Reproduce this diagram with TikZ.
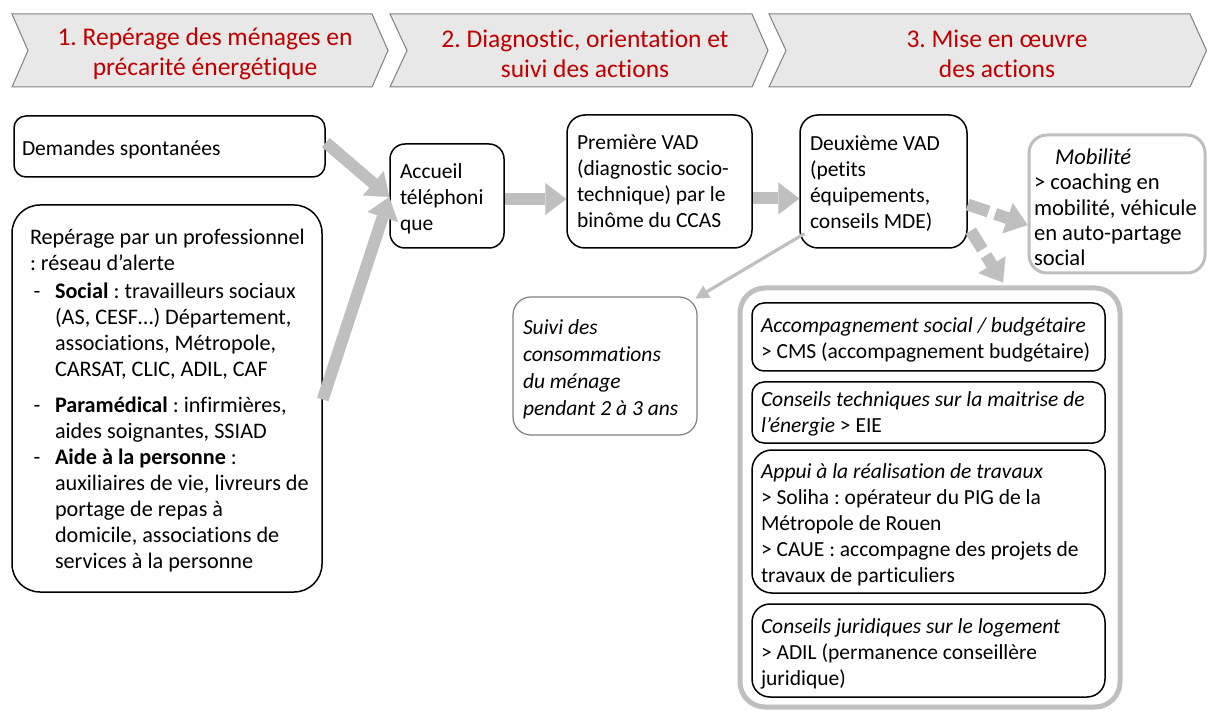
\documentclass[tikz,border=0pt]{standalone}
\usepackage{fontspec}
\setmainfont{Carlito}[Ligatures=NoCommon]
\usetikzlibrary{arrows.meta,calc}
\definecolor{hdrfill}{RGB}{232,232,232}
\definecolor{hdrline}{RGB}{128,128,128}
\definecolor{hdrtext}{RGB}{192,0,0}
\definecolor{arrgray}{RGB}{191,191,191}
\definecolor{suivline}{RGB}{128,128,128}
\newcommand\bodyfnt{\fontsize{21.5}{26}\selectfont}
\newcommand\hdrfnt{\fontsize{25.5}{30}\selectfont}
\newcommand\txtblock[3][7pt]{\raisebox{0pt}[\dimexpr\height+#1\relax][\depth]{\makebox[#2][l]{\begin{tabular}{@{}l@{}}#3\end{tabular}}}}
\frenchspacing
\begin{document}
\begin{tikzpicture}[x=1pt,y=-1pt,
  chev/.style={fill=hdrfill, draw=hdrline, line width=1pt},
  hdr/.style={font=\hdrfnt, text=hdrtext, align=center},
  box/.style={draw=black, line width=1.5pt, font=\bodyfnt, inner ysep=0pt},
  lbox/.style={draw=arrgray, line width=3pt, inner ysep=0pt},
  fat/.style={draw=arrgray, line width=12pt, -{Triangle[width=32pt,length=21pt,line width=0.1pt]}},
  fatdash/.style={fat, dash pattern=on 22pt off 7pt},
  thinarr/.style={draw=arrgray, line width=3.2pt, -{Triangle[width=14pt,length=13pt,line width=0.1pt]}},
]
\useasboundingbox (0,0) rectangle (1208,711);

% header chevrons
\draw[chev] (12,14) -- (372,14) -- (388,50.5) -- (372,87) -- (12,87) -- (28,50.5) -- cycle;
\draw[chev] (390,14) -- (752,14) -- (768,50.5) -- (752,87) -- (390,87) -- (407,50.5) -- cycle;
\draw[chev] (769,14) -- (1190,14) -- (1206.5,50.5) -- (1190,87) -- (769,87) -- (786,50.5) -- cycle;
\node[hdr] (h1) at (205,54) {1. Repérage des ménages en\\précarité énergétique};
\node[hdr] (h2) at (585,54) {2. Diagnostic, orientation et\\suivi des actions};
\node[hdr] (h3) at (997,54) {3. Mise en œuvre\\des actions};

% boxes
\node[box, rounded corners=12pt, minimum width=311pt, minimum height=61pt, inner xsep=8pt] (dem) at (169.5,146.5) {\txtblock[8pt]{295pt}{Demandes spontanées}};

\node[box, font=\fontsize{22.2}{26}\selectfont, rounded corners=28pt, minimum width=310pt, minimum height=387pt, inner xsep=18pt] (rep) at (167,398.5)
{\txtblock[6pt]{274pt}{Repérage par un professionnel\\
: réseau d’alerte\\[2pt]
\makebox[25pt][l]{\,-}\textbf{Social} : travailleurs sociaux\\
\hspace*{25pt}(AS, CESF…) Département,\\
\hspace*{25pt}associations, Métropole,\\
\hspace*{25pt}CARSAT, CLIC, ADIL, CAF\\[10pt]
\makebox[25pt][l]{\,-}\textbf{Paramédical} : infirmières,\\
\hspace*{25pt}aides soignantes, SSIAD\\
\makebox[25pt][l]{\,-}\textbf{Aide à la personne} :\\
\hspace*{25pt}auxiliaires de vie, livreurs de\\
\hspace*{25pt}portage de repas à\\
\hspace*{25pt}domicile, associations de\\
\hspace*{25pt}services à la personne}};

\node[box, rounded corners=15pt, minimum width=114pt, minimum height=104pt, inner xsep=10pt] (acc) at (447,196) {\txtblock{94pt}{Accueil\\téléphoni\\que}};

\node[box, rounded corners=18pt, minimum width=185pt, minimum height=133pt, inner xsep=10pt] (pre) at (659.5,181.5) {\txtblock[4pt]{165pt}{Première VAD\\(diagnostic socio-\\technique) par le\\binôme du CCAS}};

\node[box, rounded corners=18pt, minimum width=167pt, minimum height=133pt, inner xsep=10pt] (deu) at (883.5,181.5) {\txtblock[6pt]{147pt}{Deuxième VAD\\(petits\\équipements,\\conseils MDE)}};

\node[lbox, font=\fontsize{22.6}{25.2}\selectfont, rounded corners=18pt, minimum width=176pt, minimum height=138pt, inner xsep=5pt] (mob) at (1117,204) {\txtblock[12pt]{166pt}{\hspace*{21pt}\textit{Mobilité}\\> coaching en\\mobilité, véhicule\\en auto-partage\\social}};

\node[draw=suivline, line width=1.2pt, font=\fontsize{21.5}{27}\selectfont\itshape, inner ysep=0pt, rounded corners=18pt, minimum width=184pt, minimum height=138pt, inner xsep=10pt] (sui) at (605,366) {\txtblock[8pt]{164pt}{Suivi des\\consommations\\du ménage\\pendant 2 à 3 ans}};

\node[draw=arrgray, line width=5pt, rounded corners=25pt, minimum width=380pt, minimum height=419pt] (grp) at (930,497.5) {};

\node[box, rounded corners=12pt, minimum width=353pt, minimum height=68pt, inner xsep=9pt] (ia) at (928.5,337) {\txtblock{335pt}{\textit{Accompagnement social / budgétaire}\\> CMS (accompagnement budgétaire)}};
\node[box, rounded corners=12pt, minimum width=353pt, minimum height=61pt, inner xsep=9pt] (ib) at (928.5,412.5) {\txtblock[3pt]{335pt}{\textit{Conseils techniques sur la maitrise de}\\\textit{l’énergie} > EIE}};
\node[box, rounded corners=20pt, minimum width=353pt, minimum height=143pt, inner xsep=9pt] (ic) at (928.5,521.5) {\txtblock{335pt}{\textit{Appui à la réalisation de travaux}\\> Soliha : opérateur du PIG de la\\Métropole de Rouen\\> CAUE : accompagne des projets de\\travaux de particuliers}};
\node[box, rounded corners=18pt, minimum width=353pt, minimum height=93pt, inner xsep=9pt] (id) at (928.5,650.5) {\txtblock[8pt]{335pt}{\textit{Conseils juridiques sur le logement}\\> ADIL (permanence conseillère\\juridique)}};

% connectors
\draw[fat] ([yshift=4pt]dem.east) -- ([yshift=-1pt]acc.west);
\draw[fat] ([yshift=-1pt]rep.east) -- ([yshift=-1pt]acc.west);
\draw[fat] ([yshift=-3pt]acc.east) -- ([yshift=-3pt]acc.east -| pre.west);
\draw[fat] ([yshift=-17pt]pre.east) -- ([yshift=-17pt]deu.west);
\draw[fatdash] ([yshift=-23pt]deu.east) -- ([yshift=-21pt]mob.west);
\draw[fatdash] ([xshift=3pt,yshift=18pt]deu.south east) -- ([xshift=73pt,yshift=3pt]grp.north);
\draw[thinarr] ([xshift=5pt,yshift=15pt]deu.south west) -- ([xshift=-2pt,yshift=-2pt]sui.north east);
\end{tikzpicture}
\end{document}
